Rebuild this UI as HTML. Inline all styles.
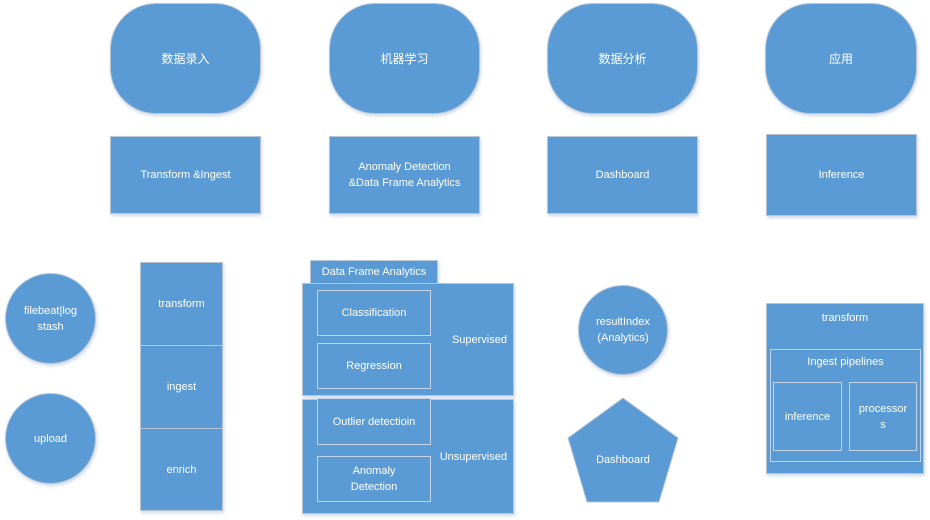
<!DOCTYPE html>
<html><head><meta charset="utf-8"><style>
body{margin:0;width:930px;height:520px;background:#fff;position:relative;overflow:hidden;font-family:"Liberation Sans","Noto Sans CJK SC",sans-serif;font-size:11px;color:#fff}
.b{position:absolute;background:#5b9bd5;border:1px solid #b8c6d6;box-sizing:border-box;display:flex;align-items:center;justify-content:center;text-align:center;line-height:16px;box-shadow:1px 2px 3px rgba(120,150,190,.35)}
.i{position:absolute;border:1px solid #c4d4e6;box-sizing:border-box;display:flex;align-items:center;justify-content:center;text-align:center;line-height:16px;background:#5b9bd5}
.r{border-radius:46px;font-size:12px}
.c{border-radius:50%}
.t{position:absolute}
</style></head><body>
<div class="b r" style="left:110px;top:3px;width:151px;height:111px">数据录入</div>
<div class="b r" style="left:329px;top:3px;width:151px;height:111px">机器学习</div>
<div class="b r" style="left:547px;top:3px;width:151px;height:111px">数据分析</div>
<div class="b r" style="left:765px;top:3px;width:152px;height:111px">应用</div>

<div class="b" style="left:110px;top:136px;width:151px;height:78px">Transform &amp;Ingest</div>
<div class="b" style="left:329px;top:136px;width:151px;height:78px">Anomaly Detection<br>&amp;Data Frame Analytics</div>
<div class="b" style="left:547px;top:136px;width:151px;height:78px">Dashboard</div>
<div class="b" style="left:766px;top:134px;width:151px;height:82px">Inference</div>

<div class="b c" style="left:5px;top:273px;width:91px;height:91px">filebeat|log<br>stash</div>
<div class="b c" style="left:5px;top:393px;width:91px;height:91px">upload</div>

<div class="b" style="left:140px;top:262px;width:83px;height:84px">transform</div>
<div class="b" style="left:140px;top:345px;width:83px;height:84px">ingest</div>
<div class="b" style="left:140px;top:428px;width:83px;height:83px">enrich</div>

<div class="b" style="left:310px;top:260px;width:128px;height:24px">Data Frame Analytics</div>
<div class="b" style="left:302px;top:283px;width:212px;height:113px;justify-content:flex-end;padding-right:6px">Supervised</div>
<div class="i" style="left:317px;top:290px;width:114px;height:46px">Classification</div>
<div class="i" style="left:317px;top:343px;width:114px;height:46px">Regression</div>
<div class="b" style="left:302px;top:399px;width:212px;height:115px;justify-content:flex-end;padding-right:6px;padding-top:0">Unsupervised</div>
<div class="i" style="left:317px;top:398px;width:114px;height:47px">Outlier detectioin</div>
<div class="i" style="left:317px;top:456px;width:114px;height:46px">Anomaly<br>Detection</div>

<div class="b c" style="left:578px;top:285px;width:90px;height:90px">resultIndex<br>(Analytics)</div>
<svg style="position:absolute;left:0;top:0" width="930" height="520"><polygon points="623,398 678,438 659,502 587,502 568,438" fill="#5b9bd5" stroke="#b8c6d6"/><text x="623" y="463" fill="#fff" font-size="11" text-anchor="middle" font-family="Liberation Sans, sans-serif">Dashboard</text></svg>

<div class="b" style="left:766px;top:303px;width:158px;height:171px;align-items:flex-start;padding-top:6px">transform</div>
<div class="i" style="left:770px;top:349px;width:151px;height:113px;align-items:flex-start;padding-top:4px">Ingest pipelines</div>
<div class="i" style="left:773px;top:382px;width:69px;height:69px">inference</div>
<div class="i" style="left:849px;top:382px;width:68px;height:69px">processor<br>s</div>
</body></html>
